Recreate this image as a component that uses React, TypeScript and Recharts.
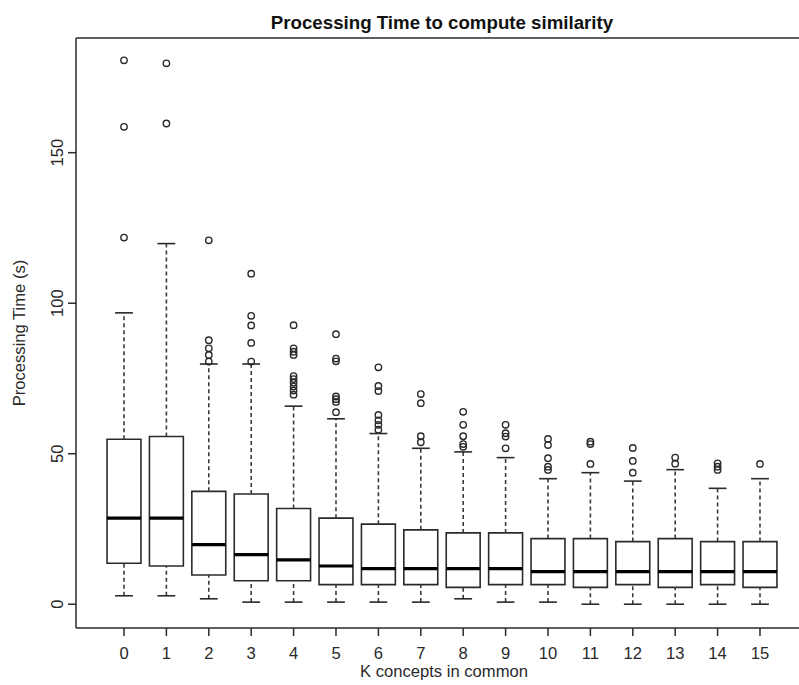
import { ComposedChart, ReferenceArea, ReferenceLine, Scatter, XAxis, YAxis } from 'recharts';

const groups = [0, 1, 2, 3, 4, 5, 6, 7, 8, 9, 10, 11, 12, 13, 14, 15];
const lowerWhisker = [2.8, 2.8, 1.8, 0.7, 0.7, 0.7, 0.7, 0.7, 1.8, 0.7, 0.7, 0, 0, 0, 0, 0];
const q1 = [13.6, 12.7, 9.7, 7.8, 7.8, 6.5, 6.5, 6.5, 5.6, 6.5, 6.5, 5.6, 6.5, 5.6, 6.5, 5.6];
const median = [28.6, 28.6, 19.8, 16.5, 14.7, 12.7, 11.8, 11.8, 11.8, 11.8, 10.8, 10.8, 10.8, 10.8, 10.8, 10.8];
const q3 = [54.8, 55.7, 37.5, 36.6, 31.8, 28.6, 26.6, 24.7, 23.7, 23.7, 21.8, 21.8, 20.8, 21.8, 20.8, 20.8];
const upperWhisker = [96.8, 119.8, 79.8, 79.8, 65.8, 61.6, 56.7, 51.8, 50.6, 48.7, 41.7, 43.7, 40.9, 44.7, 38.5, 41.7];
const outliers = [
  [121.8, 158.6, 180.7],
  [159.7, 179.7],
  [80.6, 82.8, 85.0, 87.7, 120.9],
  [80.6, 86.8, 92.6, 95.8, 109.8],
  [69.6, 71.0, 72.3, 73.6, 74.8, 75.8, 82.8, 83.9, 85.0, 92.7],
  [63.8, 67.2, 68.1, 69.0, 80.7, 81.6, 89.7],
  [58.0, 59.6, 61.1, 62.9, 70.8, 72.5, 78.7],
  [53.8, 55.8, 66.8, 69.8],
  [52.3, 53.2, 55.8, 59.6, 63.9],
  [51.8, 55.7, 56.8, 59.6],
  [44.6, 45.7, 48.5, 52.9, 54.9],
  [46.6, 53.2, 54.0],
  [43.7, 47.6, 51.9],
  [46.7, 48.7],
  [44.6, 45.7, 46.8],
  [46.6],
];
const yTicks = [0, 50, 100, 150];

const X_DOMAIN: [number, number] = [-1.132, 15.92];
const Y_DOMAIN: [number, number] = [-7.9, 188.1];
const BOX = 0.4;
const CAP = 0.21;
const INK = '#2a2a2a';
const WHISK = '#3c3c3c';
const FONT = '"Liberation Sans", Arial, Helvetica, sans-serif';

const points = outliers.flatMap((vals, i) => vals.map((v) => ({ x: groups[i], y: v })));

const Ring = (p: any) => <circle cx={p.cx} cy={p.cy} r={3.2} fill="none" stroke={INK} strokeWidth={1.4} />;

const YTick = ({ x, y, payload }: any) => (
  <text x={x - 5} y={y} transform={`rotate(-90, ${x - 5}, ${y})`} textAnchor="middle"
    fontSize={16.6} fill={INK} fontFamily={FONT}>{payload.value}</text>
);

const XTick = ({ x, y, payload }: any) => (
  <text x={x} y={y + 23} textAnchor="middle" fontSize={16.6} fill={INK} fontFamily={FONT}>{payload.value}</text>
);

export default function App() {
  return (
    <div style={{ position: 'absolute', left: 0, top: 0, width: 799, height: 685, background: '#fff' }}>
      <ComposedChart width={799} height={685} margin={{ top: 38, right: 0, bottom: 0, left: 0 }}>
        <XAxis type="number" dataKey="x" domain={X_DOMAIN} ticks={groups} interval={0} allowDataOverflow
          height={57} tickSize={8} tickMargin={0} tick={XTick}
          axisLine={{ stroke: INK, strokeWidth: 1.5 }} tickLine={{ stroke: INK, strokeWidth: 1.5 }} />
        <YAxis type="number" dataKey="y" domain={Y_DOMAIN} ticks={yTicks} allowDataOverflow
          width={76} tickSize={8} tickMargin={0} tick={YTick}
          axisLine={{ stroke: INK, strokeWidth: 1.5 }} tickLine={{ stroke: INK, strokeWidth: 1.5 }} />
        <ReferenceLine y={Y_DOMAIN[1]} stroke={INK} strokeWidth={1.5} />
        {groups.map((g, i) => (
          <ReferenceLine key={`wu${g}`} segment={[{ x: g, y: q3[i] }, { x: g, y: upperWhisker[i] }]}
            stroke={WHISK} strokeWidth={1.6} strokeDasharray="4 3" />
        ))}
        {groups.map((g, i) => (
          <ReferenceLine key={`wl${g}`} segment={[{ x: g, y: lowerWhisker[i] }, { x: g, y: q1[i] }]}
            stroke={WHISK} strokeWidth={1.6} strokeDasharray="4 3" />
        ))}
        {groups.map((g, i) => (
          <ReferenceLine key={`cu${g}`} segment={[{ x: g - CAP, y: upperWhisker[i] }, { x: g + CAP, y: upperWhisker[i] }]}
            stroke={INK} strokeWidth={1.6} />
        ))}
        {groups.map((g, i) => (
          <ReferenceLine key={`cl${g}`} segment={[{ x: g - CAP, y: lowerWhisker[i] }, { x: g + CAP, y: lowerWhisker[i] }]}
            stroke={INK} strokeWidth={1.6} />
        ))}
        {groups.map((g, i) => (
          <ReferenceArea key={`b${g}`} x1={g - BOX} x2={g + BOX} y1={q1[i]} y2={q3[i]}
            fill="#fff" fillOpacity={1} stroke={INK} strokeWidth={1.6} />
        ))}
        {groups.map((g, i) => (
          <ReferenceLine key={`m${g}`} segment={[{ x: g - BOX, y: median[i] }, { x: g + BOX, y: median[i] }]}
            stroke="#000" strokeWidth={3.2} />
        ))}
        <Scatter data={points} dataKey="y" shape={Ring} isAnimationActive={false} />
      </ComposedChart>
      <svg width={799} height={685} style={{ position: 'absolute', left: 0, top: 0, pointerEvents: 'none' }}>
        <text x={442} y={29} textAnchor="middle" fontSize={18.7} fontWeight="bold" fill="#111" fontFamily={FONT}>
          Processing Time to compute similarity
        </text>
        <text x={444} y={677} textAnchor="middle" fontSize={16.6} fill={INK} fontFamily={FONT}>
          K concepts in common
        </text>
        <text x={25} y={333} transform="rotate(-90, 25, 333)" textAnchor="middle" fontSize={16.6} fill={INK} fontFamily={FONT}>
          Processing Time (s)
        </text>
      </svg>
    </div>
  );
}
